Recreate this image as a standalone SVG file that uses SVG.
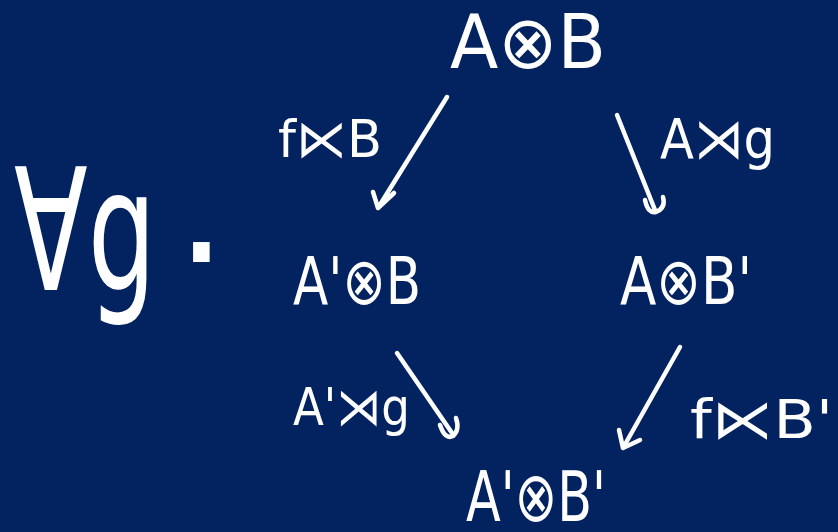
<svg xmlns="http://www.w3.org/2000/svg" width="838" height="532" viewBox="0 0 838 532">
<style>
text{font-family:"DejaVu Sans","Noto Sans",sans-serif;fill:#fff}
.arr{fill:none;stroke:#fff;stroke-width:4.5;stroke-linecap:round;stroke-linejoin:round}
</style>
<rect width="838" height="532" fill="#022260"/>
<g id="forall">
<text x="14" y="290" font-size="170" textLength="142" lengthAdjust="spacingAndGlyphs">∀g</text>
<text x="176" y="262" font-size="160">.</text>
</g>
<g id="n-AB"><text x="450" y="68" font-size="74" textLength="156" lengthAdjust="spacingAndGlyphs">A⊗B</text></g>
<g id="n-ApB"><text x="293" y="304" font-size="66" textLength="128" lengthAdjust="spacingAndGlyphs">A'⊗B</text></g>
<g id="n-ABp"><text x="620" y="304" font-size="66" textLength="132" lengthAdjust="spacingAndGlyphs">A⊗B'</text></g>
<g id="n-ApBp"><text x="466" y="521" font-size="70" textLength="140" lengthAdjust="spacingAndGlyphs">A'⊗B'</text></g>
<g id="connectors">
<path class="arr" d="M447,97 L378,208 M373,192 L378,208 L394,193"/>
<path class="arr" d="M617,115 L655,210 M645,200 Q648,214 656,212 Q666,208 663,197"/>
<path class="arr" d="M397,353 L452,433 M440,425 Q445,440 453,436 Q460,430 456,418"/>
<path class="arr" d="M680,347 L623,448 M619,430 L623,448 L640,440"/>
</g>
<g id="labels">
<text x="278" y="157" font-size="52" textLength="104" lengthAdjust="spacingAndGlyphs">f⋉B</text>
<text x="660" y="158" font-size="56" textLength="115" lengthAdjust="spacingAndGlyphs">A⋊g</text>
<text x="293" y="425" font-size="52" textLength="117" lengthAdjust="spacingAndGlyphs">A'⋊g</text>
<text x="690" y="438" font-size="54" textLength="143" lengthAdjust="spacingAndGlyphs">f⋉B'</text>
</g>
</svg>
